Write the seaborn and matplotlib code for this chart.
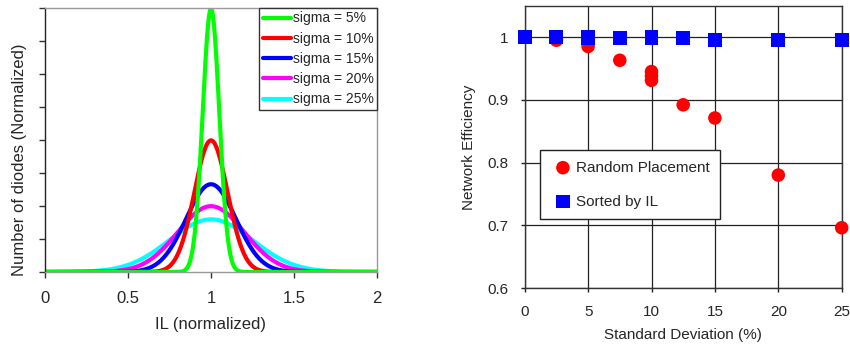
import numpy as np
import pandas as pd
import matplotlib
matplotlib.use("Agg")
import matplotlib.pyplot as plt
import seaborn as sns

# ---- data ----
# Left panel: normalized IL distributions (normal, mean 1) for each sigma
sigma_labels = ["sigma = 5%", "sigma = 10%", "sigma = 15%", "sigma = 20%", "sigma = 25%"]
sigma_values = [0.05, 0.10, 0.15, 0.20, 0.25]
il_mean = 1.0
curve_colors = ["#00FF00", "#FF0000", "#0000FF", "#FF00FF", "#00FFFF"]
left_xticks = [0, 0.5, 1, 1.5, 2]
left_xticklabels = ["0", "0.5", "1", "1.5", "2"]

# Right panel: network efficiency vs standard deviation
random_sd = [0, 2.5, 5, 7.5, 10, 10, 10, 12.5, 15, 20, 25]
random_eff = [1.0, 0.995, 0.985, 0.963, 0.945, 0.938, 0.931, 0.892, 0.871, 0.780, 0.696]
sorted_sd = [0, 2.5, 5, 5, 7.5, 10, 10, 12.5, 15, 20, 25]
sorted_eff = [1.0, 0.9995, 1.0, 0.998, 0.999, 0.9995, 0.998, 0.998, 0.996, 0.995, 0.996]
right_xticks = [0, 5, 10, 15, 20, 25]
right_yticks = [0.6, 0.7, 0.8, 0.9, 1.0]
right_yticklabels = ["0.6", "0.7", "0.8", "0.9", "1"]

# ---- build frames ----
x = np.linspace(0, 2, 801)
rows = []
for lab, s in zip(sigma_labels, sigma_values):
    y = np.exp(-0.5 * ((x - il_mean) / s) ** 2) / (s * np.sqrt(2 * np.pi))
    rows.append(pd.DataFrame({"IL": x, "count": y, "series": lab}))
curves = pd.concat(rows, ignore_index=True)

rnd = pd.DataFrame({"sd": random_sd, "eff": random_eff, "series": "Random Placement"})
srt = pd.DataFrame({"sd": sorted_sd, "eff": sorted_eff, "series": "Sorted by IL"})

sns.set_theme(style="white")
plt.rcParams["font.family"] = ["Liberation Sans", "DejaVu Sans"]

W, H = 850, 346
fig = plt.figure(figsize=(W / 100, H / 100), dpi=100)

# ---------------- left panel ----------------
axL = fig.add_axes([45 / W, (H - 272) / H, (377 - 45) / W, (272 - 8) / H])
palette = dict(zip(sigma_labels, curve_colors))
for lab in reversed(sigma_labels):
    sns.lineplot(data=curves[curves["series"] == lab], x="IL", y="count",
                 color=palette[lab], linewidth=3.0, ax=axL, label=lab,
                 legend=False)
axL.set_xlim(0, 2)
axL.set_ylim(0, 8)
axL.set_xticks(left_xticks)
axL.set_xticklabels(left_xticklabels, fontsize=12)
axL.set_yticks(np.arange(0, 9, 1))
axL.set_yticklabels([])
axL.tick_params(axis="both", direction="out", length=4, width=1, color="#333333",
                bottom=True, left=True, pad=10)
axL.set_xlabel("IL (normalized)", fontsize=12)
axL.xaxis.set_label_coords(0.5, -(317 - 272) / 264, transform=axL.transAxes)
axL.set_ylabel("Number of diodes (Normalized)", fontsize=12)
axL.yaxis.set_label_coords(-18 / 332, (272 - 160) / 264, transform=axL.transAxes)
for side in ["top", "right", "bottom"]:
    axL.spines[side].set_color("#999999")
axL.spines["left"].set_color("#222222")
for sp in axL.spines.values():
    sp.set_linewidth(1.0)
handles, labels = axL.get_legend_handles_labels()
order = [labels.index(l) for l in sigma_labels]
legL = axL.legend([handles[i] for i in order], [labels[i] for i in order],
                  loc="upper right", bbox_to_anchor=(1.0, 1.0), fontsize=10,
                  frameon=True, fancybox=False, framealpha=1, edgecolor="#333333",
                  handlelength=2.0, handletextpad=0.15, labelspacing=0.45,
                  borderpad=0.25, borderaxespad=0.0)
legL.get_frame().set_linewidth(1.0)

# ---------------- right panel ----------------
axR = fig.add_axes([524.7 / W, (H - 288) / H, (841.7 - 524.7) / W, (288 - 5.7) / H])
sns.scatterplot(data=rnd, x="sd", y="eff", marker="o", s=95, color="#FF0000",
                edgecolor="none", ax=axR, label="Random Placement", zorder=3,
                clip_on=False)
sns.scatterplot(data=srt, x="sd", y="eff", marker="s", s=100, color="#0000FF",
                edgecolor="none", ax=axR, label="Sorted by IL", zorder=4,
                clip_on=False)
axR.set_xlim(0, 25)
axR.set_ylim(0.6, 1.05)
axR.set_xticks(right_xticks)
axR.set_yticks(right_yticks)
axR.set_yticklabels(right_yticklabels, fontsize=11)
axR.set_xticklabels([str(v) for v in right_xticks], fontsize=11)
axR.grid(True, color="#222222", linewidth=0.9)
axR.set_axisbelow(True)
axR.tick_params(axis="both", direction="out", length=3, width=1, color="#222222",
                bottom=True, left=True, pad=9)
axR.set_xlabel("Standard Deviation (%)", fontsize=11)
axR.xaxis.set_label_coords(0.5, -(328 - 288) / 282.3, transform=axR.transAxes)
axR.set_ylabel("Network Efficiency", fontsize=11)
axR.yaxis.set_label_coords(-(524.7 - 476) / 317, 0.5, transform=axR.transAxes)
for sp in axR.spines.values():
    sp.set_color("#333333")
    sp.set_linewidth(1.0)
legR = axR.legend(loc="upper left", bbox_to_anchor=((540 - 524.7) / 317, (288 - 150) / 282.3),
                  fontsize=11, frameon=True, fancybox=False, framealpha=1,
                  edgecolor="#222222", handletextpad=0.05, labelspacing=1.3,
                  borderpad=0.7, borderaxespad=0.0, markerscale=1.0,
                  handlelength=1.6)
legR.get_frame().set_linewidth(1.0)
legR.set_zorder(5)

fig.savefig("out.png", dpi=100)
